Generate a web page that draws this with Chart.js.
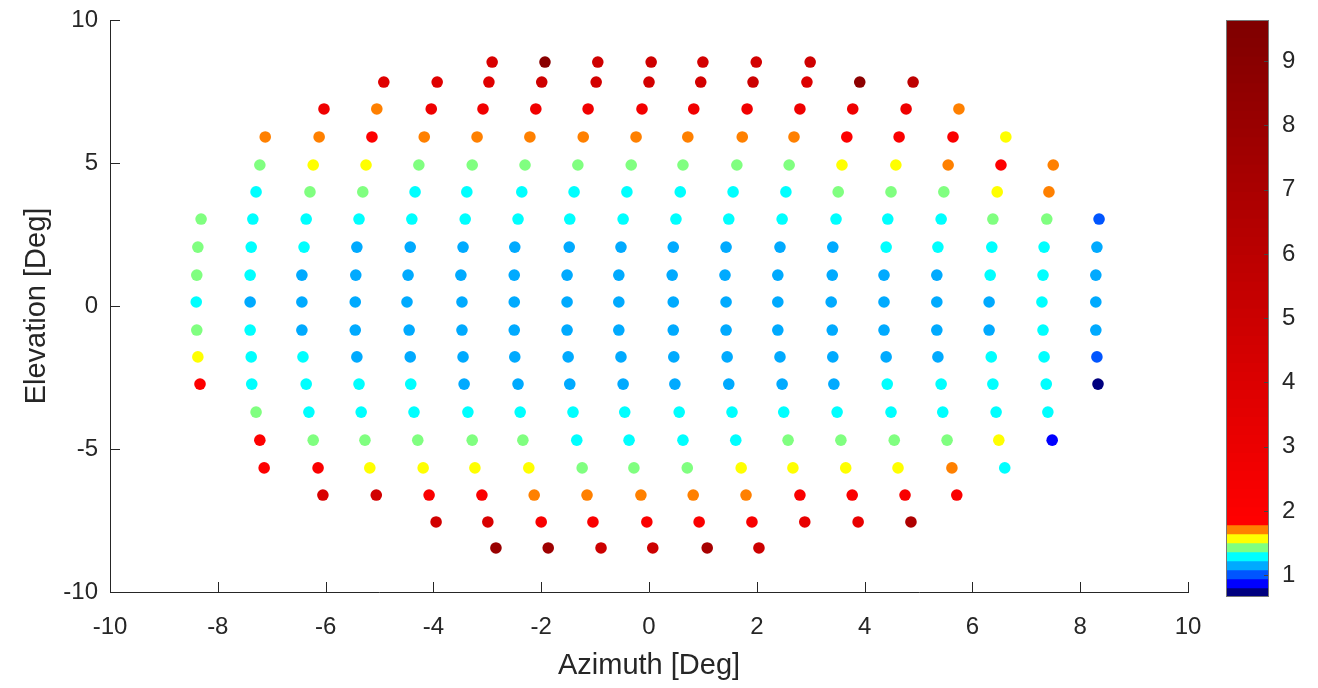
<!DOCTYPE html>
<html>
<head>
<meta charset="utf-8">
<script src="https://cdn.jsdelivr.net/npm/chart.js@4"></script>
<style>
  html, body { margin: 0; padding: 0; background: #fff; }
  #wrap { position: relative; width: 1318px; height: 688px; }
  #main { position: absolute; left: 0; top: 0; }
  #cbar { position: absolute; left: 1190px; top: 0; }
</style>
</head>
<body>
<div id="wrap">
  <canvas id="main" width="1318" height="688"></canvas>
  <canvas id="cbar" width="128" height="688"></canvas>
</div>
<script>
// elevation of each row of beams (deg), top to bottom
const elevations = [8.53, 7.83, 6.89, 5.91, 4.93, 3.99, 3.04, 2.06, 1.08, 0.14,
    -0.84, -1.78, -2.73, -3.71, -4.69, -5.66, -6.61, -7.55, -8.46];

// azimuth of each beam in a row (deg)
const azimuthRows = [
    [-2.91, -1.93, -0.95, 0.04, 1.00, 1.99, 2.99],
    [-4.92, -3.93, -2.97, -1.99, -0.98, 0.00, 0.96, 1.93, 2.93, 3.91, 4.90],
    [-6.03, -5.05, -4.04, -3.08, -2.10, -1.13, -0.13, 0.83, 1.82, 2.80, 3.78, 4.77, 5.75],
    [-7.12, -6.12, -5.14, -4.17, -3.19, -2.21, -1.22, -0.24, 0.72, 1.73, 2.69, 3.67, 4.64, 5.64, 6.62],
    [-7.22, -6.23, -5.25, -4.27, -3.28, -2.30, -1.32, -0.33, 0.63, 1.63, 2.60, 3.58, 4.58, 5.55, 6.53, 7.50],
    [-7.29, -6.29, -5.31, -4.34, -3.38, -2.36, -1.39, -0.41, 0.58, 1.56, 2.54, 3.51, 4.49, 5.47, 6.46, 7.42],
    [-8.31, -7.35, -6.36, -5.38, -4.40, -3.41, -2.43, -1.47, -0.48, 0.50, 1.48, 2.47, 3.47, 4.43, 5.42, 6.38, 7.38, 8.35],
    [-8.37, -7.38, -6.40, -5.42, -4.43, -3.45, -2.49, -1.48, -0.52, 0.45, 1.43, 2.43, 3.41, 4.40, 5.36, 6.36, 7.33, 8.31],
    [-8.39, -7.40, -6.44, -5.44, -4.47, -3.49, -2.50, -1.52, -0.56, 0.43, 1.41, 2.39, 3.40, 4.36, 5.34, 6.33, 7.31, 8.29],
    [-8.40, -7.40, -6.44, -5.45, -4.49, -3.47, -2.50, -1.52, -0.56, 0.45, 1.43, 2.39, 3.38, 4.36, 5.34, 6.31, 7.29, 8.29],
    [-8.39, -7.40, -6.44, -5.45, -4.45, -3.47, -2.50, -1.52, -0.56, 0.45, 1.43, 2.39, 3.40, 4.36, 5.34, 6.31, 7.31, 8.29],
    [-8.37, -7.38, -6.42, -5.42, -4.43, -3.45, -2.49, -1.50, -0.52, 0.46, 1.45, 2.43, 3.41, 4.40, 5.36, 6.35, 7.33, 8.31],
    [-8.33, -7.37, -6.36, -5.38, -4.42, -3.43, -2.43, -1.47, -0.48, 0.48, 1.48, 2.47, 3.43, 4.42, 5.42, 6.38, 7.37, 8.33],
    [-7.29, -6.31, -5.34, -4.36, -3.36, -2.39, -1.41, -0.45, 0.56, 1.54, 2.50, 3.49, 4.49, 5.45, 6.44, 7.40],
    [-7.22, -6.23, -5.27, -4.29, -3.28, -2.34, -1.34, -0.37, 0.63, 1.61, 2.58, 3.56, 4.55, 5.53, 6.49, 7.48],
    [-7.14, -6.14, -5.18, -4.19, -3.23, -2.23, -1.24, -0.28, 0.71, 1.71, 2.67, 3.65, 4.62, 5.62, 6.60],
    [-6.05, -5.06, -4.08, -3.10, -2.13, -1.15, -0.15, 0.82, 1.80, 2.80, 3.77, 4.75, 5.71],
    [-3.95, -2.99, -2.00, -1.04, -0.04, 0.93, 1.91, 2.89, 3.88, 4.86],
    [-2.84, -1.87, -0.89, 0.07, 1.08, 2.04]
];

// measured value of each beam (colour scale)
const valueRows = [
    [4.3, 9.0, 4.8, 4.8, 4.5, 4.5, 4.8],
    [3.8, 3.8, 3.8, 4.8, 4.5, 4.5, 4.5, 5.0, 3.9, 8.7, 5.8],
    [2.8, 1.71, 2.8, 2.7, 2.7, 2.7, 2.6, 2.7, 2.7, 2.8, 2.8, 2.8, 1.71],
    [1.71, 1.71, 2.0, 1.71, 1.71, 1.71, 1.71, 1.71, 1.71, 1.71, 1.71, 2.0, 2.1, 2.2, 1.57],
    [1.43, 1.57, 1.57, 1.43, 1.43, 1.43, 1.43, 1.43, 1.43, 1.43, 1.43, 1.57, 1.57, 1.71, 2.0, 1.71],
    [1.29, 1.43, 1.43, 1.29, 1.29, 1.29, 1.29, 1.29, 1.29, 1.29, 1.29, 1.43, 1.43, 1.43, 1.57, 1.71],
    [1.43, 1.29, 1.29, 1.29, 1.29, 1.29, 1.29, 1.29, 1.29, 1.29, 1.29, 1.29, 1.29, 1.29, 1.29, 1.43, 1.43, 1.0],
    [1.43, 1.29, 1.29, 1.15, 1.15, 1.15, 1.15, 1.15, 1.15, 1.15, 1.15, 1.15, 1.15, 1.29, 1.29, 1.29, 1.29, 1.15],
    [1.43, 1.29, 1.15, 1.15, 1.15, 1.15, 1.15, 1.15, 1.15, 1.15, 1.15, 1.15, 1.15, 1.15, 1.15, 1.29, 1.29, 1.15],
    [1.29, 1.15, 1.15, 1.15, 1.15, 1.15, 1.15, 1.15, 1.15, 1.15, 1.15, 1.15, 1.15, 1.15, 1.15, 1.15, 1.29, 1.15],
    [1.43, 1.29, 1.15, 1.15, 1.15, 1.15, 1.15, 1.15, 1.15, 1.15, 1.15, 1.15, 1.15, 1.15, 1.15, 1.15, 1.29, 1.15],
    [1.57, 1.29, 1.29, 1.15, 1.15, 1.15, 1.15, 1.15, 1.15, 1.15, 1.15, 1.15, 1.15, 1.15, 1.15, 1.29, 1.29, 1.0],
    [2.0, 1.29, 1.29, 1.29, 1.29, 1.15, 1.15, 1.15, 1.15, 1.15, 1.15, 1.15, 1.15, 1.29, 1.29, 1.29, 1.29, 0.72],
    [1.43, 1.29, 1.29, 1.29, 1.29, 1.29, 1.29, 1.29, 1.29, 1.29, 1.29, 1.29, 1.29, 1.29, 1.29, 1.29],
    [2.0, 1.43, 1.43, 1.43, 1.43, 1.43, 1.29, 1.29, 1.29, 1.29, 1.43, 1.43, 1.43, 1.43, 1.57, 0.87],
    [2.0, 2.1, 1.57, 1.57, 1.57, 1.57, 1.43, 1.43, 1.43, 1.57, 1.57, 1.57, 1.57, 1.71, 1.29],
    [4.3, 4.7, 2.2, 2.2, 1.71, 1.71, 1.71, 1.71, 1.71, 2.1, 2.2, 2.3, 2.2],
    [4.6, 4.2, 2.3, 2.2, 2.2, 2.2, 2.3, 3.3, 3.3, 6.8],
    [8.0, 7.8, 5.0, 5.0, 7.2, 5.0]
];

const xTicks = [-10, -8, -6, -4, -2, 0, 2, 4, 6, 8, 10];
const yTicks = [-10, -5, 0, 5, 10];
const cbarTicks = [1, 2, 3, 4, 5, 6, 7, 8, 9];

// colour limits and the low end of the colormap
const cMin = 0.66, cMax = 9.64, cSteps = 64;
const lowColors = ['#00007f', '#0000ff', '#0055ff', '#00aaff', '#00ffff', '#80ff80', '#ffff00', '#ff8000'];

const ink = '#262626';
Chart.defaults.font.family = '"Liberation Sans", Arial, Helvetica, sans-serif';
Chart.defaults.color = ink;

function colorOfIndex(i) {
    if (i < lowColors.length) return lowColors[i];
    const r = Math.round(255 * (1 - 0.5 * (i - 8) / (cSteps - 9)));
    return 'rgb(' + r + ',0,0)';
}

function colorOfValue(v) {
    let i = Math.floor((v - cMin) / (cMax - cMin) * cSteps);
    i = Math.max(0, Math.min(cSteps - 1, i));
    return colorOfIndex(i);
}

const points = [];
elevations.forEach((el, r) => {
    azimuthRows[r].forEach((az, k) => {
        points.push({ x: az, y: el, v: valueRows[r][k] });
    });
});

// matlab style ticks pointing into the axes
const inwardTicks = {
    id: 'inwardTicks',
    afterDraw(chart, args, opts) {
        const ctx = chart.ctx;
        ctx.save();
        ctx.strokeStyle = opts.color || ink;
        ctx.lineWidth = 1;
        Object.values(chart.scales).forEach(scale => {
            if (!scale.options.display) return;
            const len = opts.length || 8;
            scale.ticks.forEach((t, i) => {
                const p = Math.round(scale.getPixelForTick(i)) + 0.5;
                ctx.beginPath();
                if (scale.isHorizontal()) {
                    ctx.moveTo(p, scale.top);
                    ctx.lineTo(p, scale.top - len);
                } else if (scale.position === 'left') {
                    ctx.moveTo(scale.right, p);
                    ctx.lineTo(scale.right + len, p);
                } else {
                    ctx.moveTo(scale.left, p);
                    ctx.lineTo(scale.left - len, p);
                }
                ctx.stroke();
            });
        });
        if (opts.box) {
            const a = chart.chartArea;
            ctx.strokeStyle = opts.box;
            ctx.strokeRect(a.left + 0.5, a.top + 0.5, a.right - a.left - 1, a.bottom - a.top - 1);
        }
        ctx.restore();
    }
};

new Chart(document.getElementById('main'), {
    type: 'scatter',
    data: {
        datasets: [{
            data: points,
            pointRadius: 5.8,
            pointHoverRadius: 5.8,
            pointBorderWidth: 0,
            pointBackgroundColor: points.map(p => colorOfValue(p.v)),
            pointBorderColor: points.map(p => colorOfValue(p.v))
        }]
    },
    options: {
        responsive: false,
        animation: false,
        layout: { padding: { top: 20, right: 130, left: 0, bottom: 0 } },
        plugins: {
            legend: { display: false },
            tooltip: { enabled: false },
            inwardTicks: { length: 10, color: ink }
        },
        scales: {
            x: {
                type: 'linear',
                min: -10, max: 10,
                afterBuildTicks: s => { s.ticks = xTicks.map(v => ({ value: v })); },
                afterFit: s => { s.height = 96; },
                grid: { display: false },
                border: { display: true, color: ink, width: 1 },
                ticks: { font: { size: 24 }, padding: 13, color: ink, maxRotation: 0 },
                title: { display: true, text: 'Azimuth [Deg]', font: { size: 29 }, color: ink, padding: { top: 0, bottom: 5 } }
            },
            y: {
                type: 'linear',
                min: -10, max: 10,
                afterBuildTicks: s => { s.ticks = yTicks.map(v => ({ value: v })); },
                afterFit: s => { s.width = 110; },
                grid: { display: false },
                border: { display: true, color: ink, width: 1 },
                ticks: { font: { size: 24 }, padding: 4, color: ink },
                title: { display: true, text: 'Elevation [Deg]', font: { size: 29 }, color: ink, padding: { top: 20, bottom: 0 } }
            }
        }
    },
    plugins: [inwardTicks]
});

// colour bar: one floating bar per colormap entry (slight overlap hides seams)
const step = (cMax - cMin) / cSteps;
const cbarSets = [];
for (let i = 0; i < cSteps; i++) {
    const hi = i < cSteps - 1 ? cMin + (i + 1) * step + step * 0.3 : cMax;
    cbarSets.push({
        data: [[cMin + i * step, hi]],
        backgroundColor: colorOfIndex(i),
        borderWidth: 0,
        barPercentage: 1,
        categoryPercentage: 1,
        grouped: false,
        order: cSteps - i
    });
}

new Chart(document.getElementById('cbar'), {
    type: 'bar',
    data: { labels: [''], datasets: cbarSets },
    options: {
        responsive: false,
        animation: false,
        layout: { padding: { top: 20, bottom: 91, left: 36, right: 0 } },
        plugins: {
            legend: { display: false },
            tooltip: { enabled: false },
            inwardTicks: { length: 5, color: '#444', box: '#777' }
        },
        scales: {
            x: { display: false },
            y: {
                position: 'right',
                min: cMin, max: cMax,
                afterBuildTicks: s => { s.ticks = cbarTicks.map(v => ({ value: v })); },
                afterFit: s => { s.width = 49; },
                grid: { display: false },
                border: { display: false },
                ticks: { font: { size: 24 }, padding: 5, color: ink }
            }
        }
    },
    plugins: [inwardTicks]
});
</script>
</body>
</html>
